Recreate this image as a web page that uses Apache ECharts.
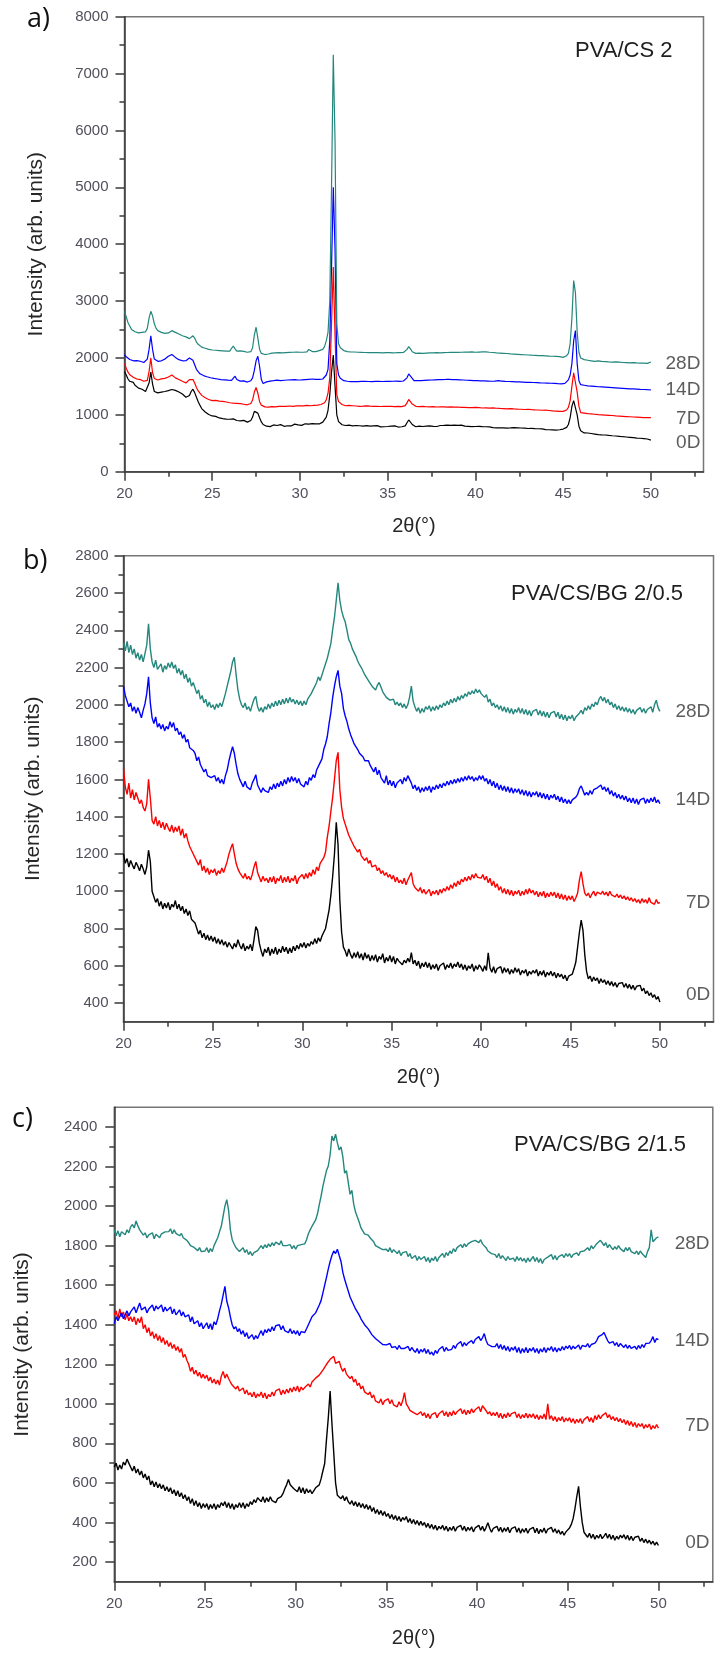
<!DOCTYPE html>
<html><head><meta charset="utf-8">
<script src="https://cdn.jsdelivr.net/npm/echarts@6/dist/echarts.min.js"></script>
<style>html,body{margin:0;padding:0;background:#fff}#c{width:715px;height:1653px}</style>
</head><body><div id="c"></div>
<script>
// sampling grid of the diffractograms: 2θ from 20.0 to 50.0 every 0.1°
const X_START = 20, X_STEP = 0.1;

// ---------- panel a) PVA/CS 2 ----------
const a0D = [
1760,1700,1630,1590,1610,1570,1520,1490,1470,1480,
1450,1430,1410,1430,1560,1750,1540,1410,1390,1385,
1395,1400,1380,1410,1400,1425,1435,1445,1450,1430,
1420,1400,1385,1365,1340,1310,1290,1340,1410,1450,
1390,1310,1230,1170,1110,1075,1050,1020,1005,990,
980,960,972,950,945,958,932,942,925,932,
922,910,928,905,900,916,895,888,902,880,
872,880,900,960,1060,1090,1030,950,875,830,
812,800,818,792,806,822,795,812,800,828,
815,798,822,808,832,805,820,836,810,822,
830,814,826,842,818,836,828,846,824,840,
852,840,858,872,905,960,1080,1350,1750,2050,
1500,1000,880,845,825,832,812,800,818,795,
805,790,812,798,808,785,802,795,810,792,
800,785,805,792,810,795,788,802,790,805,
795,788,802,790,806,792,785,800,790,795,
805,860,910,875,830,805,790,780,800,788,
795,782,800,790,805,788,798,810,795,805,
812,800,815,805,820,808,815,802,818,806,
815,803,818,808,800,812,798,806,792,800,
795,782,798,786,792,778,790,775,788,780,
776,790,772,784,770,786,772,780,765,778,
770,762,776,760,772,758,768,755,766,752,
760,748,762,745,758,742,755,740,752,745,
740,752,738,748,735,745,732,742,738,744,
750,758,780,830,950,1150,1250,1260,1000,800,
720,695,682,672,680,662,672,655,662,645,
652,640,648,632,645,628,638,622,632,618,
628,612,622,605,615,600,610,592,604,590,
598,585,592,578,588,572,582,565,575,560,
555];
const a7D = [
1900,1820,1750,1705,1690,1662,1650,1630,1612,1620,
1600,1590,1580,1605,1760,2000,1740,1640,1620,1612,
1620,1632,1610,1640,1652,1665,1682,1700,1672,1650,
1640,1622,1600,1590,1572,1560,1582,1620,1642,1620,
1560,1480,1420,1380,1342,1312,1300,1282,1270,1262,
1250,1238,1255,1230,1242,1220,1236,1210,1226,1200,
1212,1195,1206,1190,1202,1180,1196,1175,1186,1170,
1176,1180,1200,1260,1400,1480,1380,1230,1170,1150,
1140,1152,1135,1160,1145,1152,1140,1165,1150,1160,
1148,1165,1150,1172,1155,1168,1150,1175,1158,1170,
1160,1176,1158,1180,1165,1172,1160,1182,1166,1178,
1170,1162,1182,1192,1212,1262,1380,1650,2600,3600,
2400,1350,1232,1200,1182,1170,1160,1182,1165,1172,
1160,1175,1155,1170,1150,1168,1152,1172,1158,1166,
1152,1170,1148,1165,1150,1162,1146,1168,1150,1160,
1148,1165,1150,1160,1145,1162,1150,1158,1145,1155,
1162,1210,1270,1240,1190,1160,1150,1162,1145,1156,
1148,1160,1142,1155,1140,1158,1145,1152,1138,1150,
1142,1156,1140,1150,1136,1152,1140,1148,1134,1146,
1138,1150,1132,1145,1130,1146,1128,1140,1126,1138,
1130,1145,1125,1138,1120,1136,1122,1132,1118,1130,
1122,1135,1116,1128,1112,1126,1110,1122,1106,1118,
1110,1124,1104,1116,1100,1114,1098,1110,1094,1105,
1098,1110,1092,1104,1088,1100,1085,1096,1080,1092,
1082,1095,1076,1088,1070,1084,1066,1078,1062,1074,
1060,1068,1085,1130,1250,1500,1740,1720,1400,1150,
1040,1022,1030,1012,1020,1005,1015,1000,1010,996,
1004,990,1000,985,996,980,992,975,988,972,
982,968,978,962,974,958,970,955,966,952,
962,948,960,944,956,940,952,938,950,944,
950];
const a14D = [
2060,2020,1990,1972,1960,1950,1940,1952,1930,1942,
1930,1920,1940,1980,2150,2390,2150,1980,1950,1940,
1942,1950,1962,1980,2000,2030,2050,2062,2040,2010,
1990,1970,1960,1950,1940,1952,1970,2000,2012,1960,
1880,1800,1760,1722,1700,1690,1680,1670,1660,1652,
1650,1640,1656,1630,1646,1620,1640,1616,1632,1610,
1620,1605,1640,1680,1620,1600,1592,1580,1596,1570,
1576,1580,1600,1650,1780,1950,2030,1850,1620,1550,
1560,1580,1570,1592,1585,1600,1590,1610,1595,1602,
1590,1608,1592,1612,1598,1615,1600,1618,1602,1612,
1600,1615,1598,1620,1605,1625,1608,1630,1612,1625,
1610,1622,1605,1630,1652,1700,1800,2300,3600,5000,
3900,1900,1700,1642,1620,1600,1612,1590,1602,1585,
1598,1582,1600,1585,1602,1588,1605,1590,1600,1586,
1598,1585,1602,1588,1604,1590,1600,1586,1598,1590,
1600,1588,1604,1590,1602,1592,1600,1588,1606,1595,
1610,1650,1720,1700,1640,1600,1592,1602,1586,1600,
1592,1606,1594,1610,1598,1612,1600,1615,1604,1618,
1606,1620,1608,1622,1610,1625,1612,1620,1608,1618,
1606,1615,1600,1612,1596,1608,1592,1605,1590,1600,
1588,1602,1585,1598,1582,1596,1580,1594,1578,1590,
1578,1592,1575,1600,1580,1594,1576,1588,1572,1586,
1570,1584,1568,1580,1565,1578,1562,1575,1560,1572,
1558,1570,1555,1568,1552,1565,1550,1562,1548,1560,
1545,1558,1542,1555,1540,1552,1536,1548,1530,1545,
1540,1552,1575,1615,1700,1900,2300,2480,1900,1600,
1530,1512,1520,1500,1510,1495,1506,1490,1500,1485,
1494,1480,1490,1474,1486,1470,1482,1466,1478,1462,
1474,1460,1470,1455,1466,1450,1462,1446,1458,1442,
1455,1440,1452,1436,1448,1432,1445,1430,1442,1436,
1440];
const a28D = [
2820,2720,2620,2560,2500,2480,2460,2450,2440,2450,
2450,2440,2460,2520,2700,2820,2740,2600,2520,2480,
2460,2450,2440,2432,2450,2440,2460,2480,2470,2450,
2430,2420,2400,2390,2380,2370,2350,2340,2360,2390,
2350,2280,2240,2210,2190,2180,2170,2160,2150,2145,
2140,2150,2135,2145,2130,2140,2125,2135,2120,2130,
2120,2170,2210,2160,2120,2110,2125,2100,2115,2095,
2100,2090,2110,2180,2400,2540,2350,2150,2080,2060,
2060,2080,2070,2090,2085,2100,2090,2110,2095,2100,
2090,2108,2095,2112,2098,2115,2100,2118,2104,2112,
2100,2115,2100,2120,2108,2150,2115,2112,2120,2110,
2110,2130,2120,2150,2200,2300,2450,3000,5000,7330,
5800,2600,2250,2180,2150,2130,2120,2110,2100,2105,
2090,2105,2088,2100,2085,2098,2082,2096,2080,2094,
2082,2095,2078,2092,2080,2094,2076,2090,2078,2092,
2080,2094,2078,2090,2076,2092,2080,2095,2082,2096,
2090,2150,2200,2160,2110,2090,2080,2070,2085,2075,
2082,2070,2086,2072,2088,2074,2090,2076,2092,2078,
2090,2076,2094,2080,2096,2082,2098,2084,2100,2086,
2098,2084,2100,2086,2102,2088,2104,2090,2106,2092,
2100,2088,2104,2090,2106,2092,2108,2094,2100,2088,
2096,2082,2090,2076,2086,2072,2082,2068,2078,2064,
2072,2060,2068,2055,2064,2050,2060,2046,2056,2042,
2052,2040,2048,2036,2045,2032,2042,2030,2040,2028,
2036,2024,2032,2020,2030,2018,2028,2015,2024,2012,
2010,2020,2040,2080,2250,2700,3360,3150,2450,2100,
2000,1980,1970,1990,1960,1975,1950,1965,1940,1955,
1948,1962,1940,1955,1935,1950,1930,1945,1928,1942,
1930,1945,1925,1940,1920,1936,1918,1932,1915,1930,
1918,1932,1912,1928,1910,1925,1908,1922,1905,1920,
1930];

// ---------- panel b) PVA/CS/BG 2/0.5 ----------
const b0D = [
1200,1150,1175,1130,1165,1140,1120,1155,1135,1110,
1145,1120,1090,1130,1220,1160,1000,970,940,960,
920,945,905,935,910,940,900,930,915,950,
905,930,895,920,880,905,870,895,850,860,
830,800,770,790,750,775,740,765,735,760,
730,755,720,745,715,740,710,730,700,725,
715,690,720,700,740,710,690,720,680,705,
690,715,680,740,810,790,720,680,650,690,
670,700,655,690,665,700,660,690,670,705,
675,700,665,695,670,705,680,710,690,720,
700,725,695,720,705,730,715,745,720,750,
730,760,770,800,850,900,980,1080,1200,1370,
1250,950,780,700,680,650,690,660,640,670,
645,675,640,665,630,670,640,660,625,655,
630,660,620,650,635,665,615,645,625,655,
620,650,610,640,625,635,605,630,615,640,
620,670,610,630,600,625,585,615,595,620,
590,615,580,605,585,610,575,600,590,615,
580,605,590,615,585,610,595,620,590,610,
580,605,575,600,585,610,570,600,580,605,
590,570,600,575,670,590,565,595,560,585,
575,595,560,590,565,585,555,580,560,590,
565,585,550,575,560,580,545,570,555,575,
560,580,545,570,550,575,540,565,550,570,
545,565,535,560,540,555,530,550,520,545,
540,555,585,620,700,780,845,790,660,570,
530,545,515,540,520,535,505,530,510,525,
500,520,495,515,490,510,485,505,495,510,
485,505,480,500,475,495,470,490,480,495,
465,480,450,465,440,455,430,445,420,435,
405];
const b7D = [
1660,1560,1520,1580,1500,1545,1490,1530,1500,1470,
1490,1450,1430,1470,1600,1500,1380,1360,1400,1350,
1380,1340,1370,1330,1365,1340,1320,1355,1315,1345,
1320,1350,1300,1335,1285,1310,1270,1240,1220,1200,
1190,1160,1140,1170,1110,1135,1100,1125,1090,1115,
1100,1120,1085,1110,1095,1125,1100,1130,1160,1200,
1230,1255,1200,1150,1120,1100,1090,1070,1095,1065,
1080,1060,1090,1130,1160,1100,1075,1050,1080,1055,
1070,1045,1075,1050,1080,1040,1070,1055,1085,1045,
1075,1050,1080,1045,1070,1055,1085,1040,1070,1060,
1090,1065,1095,1070,1100,1080,1115,1090,1130,1110,
1150,1140,1180,1210,1290,1350,1430,1505,1600,1700,
1745,1545,1450,1390,1360,1330,1300,1280,1260,1240,
1240,1210,1225,1190,1200,1165,1180,1150,1165,1130,
1120,1140,1110,1125,1095,1110,1085,1100,1075,1090,
1065,1085,1050,1075,1045,1060,1040,1070,1035,1060,
1050,1100,1040,1020,1030,1000,1020,990,1010,985,
990,1010,975,1000,985,1005,980,1010,990,1015,
1000,1025,1005,1035,1015,1045,1025,1055,1035,1065,
1050,1075,1055,1080,1060,1090,1070,1095,1075,1085,
1070,1090,1060,1080,1045,1070,1030,1055,1020,1040,
1005,1025,990,1015,985,1010,980,1005,975,1000,
985,1005,975,1000,980,1010,985,1015,990,1005,
980,1000,970,995,975,1000,965,990,970,995,
975,995,965,990,960,985,955,980,950,975,
955,975,945,965,990,1060,1105,1040,990,975,
990,965,985,1000,975,995,1005,985,1000,980,
995,975,1000,980,990,970,985,965,980,960,
975,955,970,950,965,945,960,940,955,935,
960,940,955,935,965,940,950,930,955,935,
940];
const b14D = [
2100,2050,2020,1990,2010,1965,1990,1955,1985,1960,
1930,1970,2005,2060,2150,2010,1930,1900,1935,1880,
1900,1870,1895,1860,1885,1870,1910,1880,1905,1860,
1875,1840,1855,1820,1840,1800,1815,1770,1780,1755,
1740,1700,1720,1680,1660,1640,1655,1620,1630,1610,
1600,1620,1590,1610,1580,1600,1575,1620,1650,1700,
1740,1775,1740,1680,1630,1600,1580,1560,1590,1560,
1570,1545,1580,1600,1625,1570,1550,1530,1555,1540,
1550,1530,1560,1545,1575,1550,1580,1560,1590,1565,
1600,1575,1610,1585,1615,1590,1610,1580,1605,1575,
1585,1560,1590,1570,1610,1595,1625,1610,1650,1640,
1690,1710,1760,1790,1830,1900,1960,2040,2100,2150,
2185,2100,2060,1980,1940,1910,1870,1840,1815,1790,
1790,1760,1740,1745,1720,1700,1690,1700,1675,1680,
1640,1665,1625,1650,1610,1600,1580,1620,1570,1595,
1565,1590,1555,1580,1570,1600,1575,1610,1590,1620,
1630,1580,1550,1570,1540,1560,1530,1555,1535,1560,
1540,1565,1530,1560,1545,1570,1550,1575,1555,1580,
1565,1590,1570,1595,1575,1600,1580,1605,1585,1610,
1590,1615,1595,1620,1600,1615,1590,1610,1595,1620,
1600,1620,1590,1605,1575,1600,1565,1590,1555,1580,
1545,1570,1540,1565,1535,1560,1530,1555,1525,1550,
1530,1550,1520,1545,1515,1540,1510,1535,1505,1530,
1515,1535,1505,1530,1500,1525,1495,1520,1490,1515,
1500,1520,1490,1510,1480,1505,1475,1495,1470,1490,
1470,1490,1480,1505,1520,1550,1565,1540,1515,1530,
1515,1540,1520,1545,1535,1555,1550,1570,1545,1560,
1535,1555,1520,1540,1510,1530,1500,1520,1495,1515,
1490,1510,1480,1500,1475,1500,1470,1495,1465,1490,
1480,1500,1470,1495,1475,1500,1480,1505,1475,1490,
1470];
const b28D = [
2330,2290,2340,2280,2320,2270,2300,2250,2280,2240,
2270,2230,2275,2320,2435,2300,2230,2200,2240,2190,
2185,2220,2175,2210,2190,2225,2200,2230,2195,2215,
2170,2195,2160,2185,2140,2165,2120,2145,2100,2120,
2090,2060,2080,2030,2050,2010,2030,1990,2015,1985,
2000,1975,2005,1985,2010,1990,2025,2060,2100,2140,
2180,2230,2255,2160,2080,2030,2000,1985,2010,1975,
1990,1965,2000,2030,2045,1990,1965,1985,1960,1990,
1975,2005,1980,2010,1990,2020,1995,2025,2000,2030,
2005,2035,2010,2040,2015,2030,2005,2025,2000,2020,
1995,2020,2000,2030,2045,2060,2080,2100,2120,2150,
2130,2160,2190,2220,2250,2290,2330,2405,2470,2560,
2655,2560,2505,2470,2445,2400,2350,2330,2300,2280,
2260,2235,2215,2200,2180,2160,2150,2130,2120,2100,
2100,2080,2105,2120,2095,2070,2060,2040,2050,2025,
2015,2030,2000,2015,1995,2010,1985,2005,1980,2000,
2040,2100,2020,1990,1965,1985,1955,1980,1960,1990,
1975,1995,1965,1990,1970,1995,1975,2000,1985,2010,
1995,2020,2000,2030,2010,2035,2015,2045,2025,2050,
2035,2060,2045,2070,2055,2075,2060,2085,2065,2080,
2060,2070,2040,2055,2015,2030,1995,2010,1985,2000,
1975,1995,1965,1990,1960,1985,1955,1980,1950,1975,
1960,1985,1955,1980,1950,1975,1945,1970,1940,1965,
1955,1975,1945,1970,1940,1965,1935,1960,1930,1955,
1945,1965,1935,1960,1925,1950,1920,1945,1915,1940,
1925,1945,1915,1935,1925,1955,1970,1950,1985,1970,
1995,1975,2005,1990,2015,2000,2030,2045,2020,2040,
2010,2030,2000,2015,1985,2005,1975,1995,1970,1990,
1965,1985,1960,1980,1955,1975,1950,1970,1965,1985,
1960,1980,1955,1975,1965,1990,1960,2000,2025,1985,
1965];

// ---------- panel c) PVA/CS/BG 2/1.5 ----------
const c0D = [
680,700,665,690,670,705,690,720,700,690,
660,685,650,670,640,660,625,645,615,635,
590,610,580,605,575,595,570,590,560,580,
555,575,545,565,535,560,530,550,520,540,
510,530,495,520,485,510,480,500,470,495,
475,495,465,490,470,495,465,490,475,500,
485,505,475,500,470,495,465,490,475,500,
475,500,470,495,480,505,490,515,500,525,
520,505,530,500,525,505,530,510,520,500,
520,510,530,545,570,590,617,590,600,570,
573,555,580,550,575,545,570,550,565,545,
555,575,565,590,620,660,698,820,930,1065,
900,752,600,537,545,520,535,510,530,505,
492,510,485,505,480,500,475,495,470,490,
465,485,455,475,445,465,440,460,435,455,
430,445,420,440,415,435,410,430,405,425,
412,430,400,420,395,415,390,410,385,405,
385,400,375,395,370,390,365,385,360,380,
367,385,360,380,355,375,360,380,355,375,
367,385,360,380,355,375,360,378,352,372,
367,385,360,380,355,375,398,370,350,370,
362,380,355,375,350,372,355,375,348,368,
358,378,350,372,345,368,350,370,345,365,
355,375,348,370,342,365,350,372,345,365,
358,375,350,368,345,362,340,355,335,352,
360,372,390,420,470,530,582,480,400,350,
340,325,345,320,340,315,335,320,340,318,
331,345,320,340,315,335,310,330,315,335,
322,338,315,335,310,330,308,325,315,330,
304,320,298,315,295,310,290,305,285,300,
283];
const c7D = [
1450,1470,1430,1480,1440,1465,1425,1455,1420,1440,
1415,1440,1400,1432,1410,1440,1380,1400,1360,1385,
1343,1365,1330,1355,1320,1345,1310,1335,1300,1320,
1290,1310,1280,1300,1270,1290,1260,1280,1235,1250,
1220,1200,1164,1185,1150,1170,1140,1160,1130,1150,
1128,1145,1115,1135,1105,1125,1100,1120,1095,1140,
1164,1130,1150,1128,1110,1095,1092,1075,1090,1065,
1065,1080,1050,1070,1045,1056,1035,1060,1030,1050,
1038,1060,1030,1055,1025,1047,1035,1060,1040,1065,
1056,1075,1045,1070,1050,1074,1055,1080,1060,1085,
1065,1090,1060,1085,1070,1083,1075,1100,1085,1110,
1110,1130,1120,1145,1155,1170,1180,1200,1209,1225,
1218,1240,1205,1200,1215,1185,1164,1180,1150,1160,
1128,1140,1110,1125,1092,1105,1075,1090,1060,1070,
1047,1060,1030,1045,1015,1020,1005,1025,995,1015,
1011,1025,1000,1020,995,1002,985,1010,990,1015,
1056,1000,985,967,975,955,965,945,949,960,
940,955,930,950,925,945,935,955,930,950,
949,965,940,960,935,958,940,965,945,960,
958,975,950,970,945,967,950,975,955,970,
967,985,960,990,980,965,949,960,940,955,
940,958,930,952,925,948,930,955,935,950,
940,958,930,950,925,945,930,952,928,948,
931,950,925,945,920,940,925,948,920,1000,
922,940,915,935,910,930,915,935,908,928,
913,930,905,925,900,922,905,925,900,920,
922,935,910,930,905,940,920,945,925,940,
940,955,930,945,920,935,915,930,910,925,
904,920,895,915,890,910,885,905,880,900,
886,900,875,895,880,898,870,890,875,895,
877];
const c14D = [
1405,1440,1420,1441,1460,1430,1450,1470,1445,1465,
1468,1490,1460,1486,1510,1475,1468,1490,1460,1480,
1477,1500,1470,1495,1480,1477,1500,1465,1490,1470,
1468,1490,1455,1480,1450,1459,1475,1445,1465,1440,
1432,1450,1415,1440,1405,1397,1420,1390,1410,1380,
1388,1410,1380,1405,1375,1415,1400,1430,1470,1504,
1550,1594,1520,1486,1440,1400,1379,1390,1365,1380,
1352,1370,1340,1360,1330,1334,1350,1325,1345,1330,
1352,1370,1345,1375,1360,1379,1365,1390,1370,1395,
1388,1400,1375,1395,1370,1379,1360,1380,1355,1370,
1352,1370,1345,1365,1355,1361,1380,1400,1420,1440,
1432,1460,1480,1500,1522,1560,1600,1640,1683,1720,
1750,1773,1760,1782,1750,1720,1665,1630,1600,1570,
1540,1520,1500,1480,1470,1450,1430,1420,1400,1390,
1379,1370,1350,1345,1330,1325,1315,1310,1300,1305,
1298,1290,1305,1285,1295,1289,1275,1295,1280,1290,
1280,1275,1290,1268,1285,1271,1260,1280,1255,1275,
1262,1280,1255,1275,1250,1262,1245,1270,1255,1275,
1271,1290,1265,1285,1270,1280,1275,1295,1280,1300,
1298,1315,1290,1310,1295,1307,1300,1320,1305,1325,
1325,1340,1320,1334,1355,1320,1300,1307,1290,1300,
1289,1305,1280,1300,1275,1295,1270,1290,1265,1285,
1271,1290,1260,1285,1255,1280,1260,1285,1258,1280,
1267,1285,1260,1280,1255,1278,1262,1285,1260,1282,
1271,1290,1265,1285,1262,1282,1268,1290,1272,1292,
1280,1295,1275,1292,1280,1280,1298,1275,1295,1285,
1289,1305,1285,1300,1295,1307,1320,1340,1335,1350,
1361,1340,1320,1307,1300,1315,1295,1310,1289,1305,
1295,1285,1300,1280,1295,1280,1270,1290,1275,1295,
1280,1300,1285,1305,1295,1307,1320,1340,1310,1330,
1325];
const c28D = [
1880,1850,1875,1845,1870,1871,1855,1880,1865,1895,
1907,1890,1925,1900,1880,1870,1853,1865,1840,1855,
1845,1865,1835,1858,1853,1840,1860,1850,1870,1860,
1871,1885,1860,1880,1862,1870,1850,1862,1840,1835,
1827,1815,1800,1810,1791,1785,1775,1790,1770,1780,
1773,1790,1765,1785,1770,1800,1810,1840,1870,1898,
1950,2000,2033,1980,1880,1830,1810,1791,1785,1770,
1773,1790,1765,1780,1755,1770,1750,1765,1760,1775,
1782,1800,1785,1805,1790,1809,1795,1815,1800,1818,
1818,1805,1825,1800,1810,1800,1790,1805,1785,1800,
1782,1800,1790,1805,1795,1809,1830,1860,1880,1898,
1898,1930,1960,2006,2050,2100,2140,2180,2203,2260,
2355,2330,2364,2320,2284,2300,2250,2167,2180,2120,
2060,2080,2010,1970,1960,1920,1890,1880,1860,1870,
1853,1840,1830,1820,1800,1809,1790,1800,1780,1790,
1782,1770,1790,1765,1780,1773,1760,1775,1750,1765,
1755,1770,1745,1760,1735,1737,1750,1725,1745,1730,
1728,1745,1720,1740,1715,1737,1725,1745,1720,1740,
1746,1760,1740,1765,1750,1773,1760,1785,1770,1790,
1791,1805,1790,1810,1795,1809,1800,1820,1810,1827,
1827,1815,1830,1809,1800,1790,1773,1780,1760,1765,
1755,1740,1760,1735,1750,1737,1725,1745,1730,1740,
1737,1720,1745,1725,1740,1722,1735,1715,1738,1720,
1728,1745,1720,1740,1715,1735,1710,1730,1720,1742,
1737,1755,1730,1750,1728,1745,1735,1755,1740,1760,
1746,1760,1740,1755,1745,1764,1750,1770,1765,1773,
1773,1790,1775,1800,1785,1791,1810,1800,1827,1815,
1800,1815,1790,1805,1791,1780,1795,1782,1800,1785,
1782,1770,1790,1775,1791,1770,1780,1760,1773,1755,
1773,1760,1755,1740,1770,1790,1880,1820,1827,1840,
1845];

// curve labels and their vertical positions (intensity units) in each panel
const dayNames = ['0D', '7D', '14D', '28D'];
const dayLabelYA = [504, 935, 1436, 1893];
const dayLabelYB = [445, 940, 1490, 1964];
const dayLabelYC = [297, 887, 1317, 1810];
const dayLabelX = 52.85;

const panelTitles = ['PVA/CS 2', 'PVA/CS/BG 2/0.5', 'PVA/CS/BG 2/1.5'];
const panelLetters = ['a)', 'b)', 'c)'];

// axis ticks
const xMajor = [20, 25, 30, 35, 40, 45, 50];
const xMinor = [22.5, 27.5, 32.5, 37.5, 42.5, 47.5, 52.5];
const yMajorA = [0, 1000, 2000, 3000, 4000, 5000, 6000, 7000, 8000];
const yMinorA = [500, 1500, 2500, 3500, 4500, 5500, 6500, 7500];
const yMajorB = [400, 600, 800, 1000, 1200, 1400, 1600, 1800, 2000, 2200, 2400, 2600, 2800];
const yMinorB = [500, 700, 900, 1100, 1300, 1500, 1700, 1900, 2100, 2300, 2500, 2700];
const yMajorC = [200, 400, 600, 800, 1000, 1200, 1400, 1600, 1800, 2000, 2200, 2400];
const yMinorC = [300, 500, 700, 900, 1100, 1300, 1500, 1700, 1900, 2100, 2300];

const seriesColors = ['#000000', '#ff0000', '#0000ff', '#23877d'];

// ---------- build ----------
const toPairs = arr => arr.map((v, i) => [Math.round((X_START + i * X_STEP) * 10) / 10, v]);
const axisColor = '#3a3a3a';
const SANS = '"Liberation Sans", Arial, Helvetica, sans-serif';
const tickLabelStyle = {fontSize: 15, color: '#50505c', fontFamily: SANS, formatter: v => String(v)};
const titleStyle = {fontSize: 21, color: '#262626', fontFamily: SANS};

const panels = [
  {grid: {left: 124.5, top: 16.7, width: 579, height: 455}, yMin: 0, yMax: 8000, yMajor: yMajorA, yMinor: yMinorA,
   data: [a0D, a7D, a14D, a28D], labelY: dayLabelYA, yNameGap: 78, xNameGap: 45, yLabelMargin: 16, lw: 1.2},
  {grid: {left: 123.5, top: 555.7, width: 590, height: 466}, yMin: 300, yMax: 2800, yMajor: yMajorB, yMinor: yMinorB,
   data: [b0D, b7D, b14D, b28D], labelY: dayLabelYB, yNameGap: 80, xNameGap: 46, yLabelMargin: 15, lw: 1.4},
  {grid: {left: 114.3, top: 1107.3, width: 598.5, height: 474.4}, yMin: 100, yMax: 2500, yMajor: yMajorC, yMinor: yMinorC,
   data: [c0D, c7D, c14D, c28D], labelY: dayLabelYC, yNameGap: 82, xNameGap: 47, yLabelMargin: 17, lw: 1.4}
];

const grids = [], xAxes = [], yAxes = [], series = [];
panels.forEach((p, gi) => {
  grids.push(Object.assign({show: true, borderColor: '#767676', borderWidth: 1.5, backgroundColor: 'transparent', containLabel: false}, p.grid));
  const xi = xAxes.length, yi = yAxes.length;
  xAxes.push({
    type: 'value', gridIndex: gi, min: 20, max: 53, position: 'bottom',
    axisLine: {show: true, onZero: false, lineStyle: {color: axisColor, width: 1.5}},
    axisTick: {show: true, length: 9, customValues: xMajor, lineStyle: {color: axisColor, width: 1.5}},
    axisLabel: Object.assign({customValues: xMajor, margin: 15}, tickLabelStyle),
    splitLine: {show: false},
    name: '2θ(°)', nameLocation: 'middle', nameGap: p.xNameGap,
    nameTextStyle: Object.assign({}, titleStyle, {fontSize: 20})
  });
  xAxes.push({
    type: 'value', gridIndex: gi, min: 20, max: 53, position: 'bottom',
    axisLine: {show: false, onZero: false},
    axisTick: {show: true, length: 5, customValues: xMinor, lineStyle: {color: axisColor, width: 1.5}},
    axisLabel: {show: false}, splitLine: {show: false}
  });
  yAxes.push({
    type: 'value', gridIndex: gi, min: p.yMin, max: p.yMax, position: 'left',
    axisLine: {show: true, onZero: false, lineStyle: {color: axisColor, width: 1.5}},
    axisTick: {show: true, length: 9, customValues: p.yMajor, lineStyle: {color: axisColor, width: 1.5}},
    axisLabel: Object.assign({customValues: p.yMajor, margin: p.yLabelMargin}, tickLabelStyle),
    splitLine: {show: false},
    name: 'Intensity (arb. units)', nameLocation: 'middle', nameGap: p.yNameGap,
    nameTextStyle: titleStyle
  });
  yAxes.push({
    type: 'value', gridIndex: gi, min: p.yMin, max: p.yMax, position: 'left',
    axisLine: {show: false, onZero: false},
    axisTick: {show: true, length: 5, customValues: p.yMinor, lineStyle: {color: axisColor, width: 1.5}},
    axisLabel: {show: false}, splitLine: {show: false}
  });
  p.data.forEach((arr, si) => {
    series.push({
      type: 'line', name: dayNames[si], xAxisIndex: xi, yAxisIndex: yi,
      data: toPairs(arr), showSymbol: false, symbol: 'none', sampling: null,
      lineStyle: {color: seriesColors[si], width: p.lw}, itemStyle: {color: seriesColors[si]},
      clip: true, silent: true, z: 2 + si
    });
  });
  series.push({
    type: 'scatter', xAxisIndex: xi, yAxisIndex: yi, silent: true, z: 10,
    symbolSize: 1, itemStyle: {color: 'rgba(0,0,0,0)'},
    data: dayNames.map((d, k) => [dayLabelX, p.labelY[k], d]),
    label: {show: true, position: 'left', distance: 0, formatter: q => q.data[2],
            fontSize: 19, color: '#333', fontFamily: SANS}
  });
});

const graphics = [
  {type: 'text', left: 27, top: 6, style: {text: panelLetters[0], fontSize: 27, fill: '#111', fontFamily: '"Open Sans", sans-serif'}},
  {type: 'text', left: 23, top: 548, style: {text: panelLetters[1], fontSize: 27, fill: '#111', fontFamily: '"Open Sans", sans-serif'}},
  {type: 'text', left: 12, top: 1106, style: {text: panelLetters[2], fontSize: 27, fill: '#111', fontFamily: '"Open Sans", sans-serif'}},
  {type: 'text', left: 575, top: 40, style: {text: panelTitles[0], fontSize: 22, fill: '#1e1e1e', fontFamily: SANS}},
  {type: 'text', left: 511, top: 583, style: {text: panelTitles[1], fontSize: 22, fill: '#1e1e1e', fontFamily: SANS}},
  {type: 'text', left: 514, top: 1134, style: {text: panelTitles[2], fontSize: 22, fill: '#1e1e1e', fontFamily: SANS}}
];

const chart = echarts.init(document.getElementById('c'), null, {renderer: 'canvas'});
chart.setOption({
  animation: false,
  backgroundColor: '#ffffff',
  grid: grids, xAxis: xAxes, yAxis: yAxes, series: series, graphic: graphics
});
</script></body></html>
